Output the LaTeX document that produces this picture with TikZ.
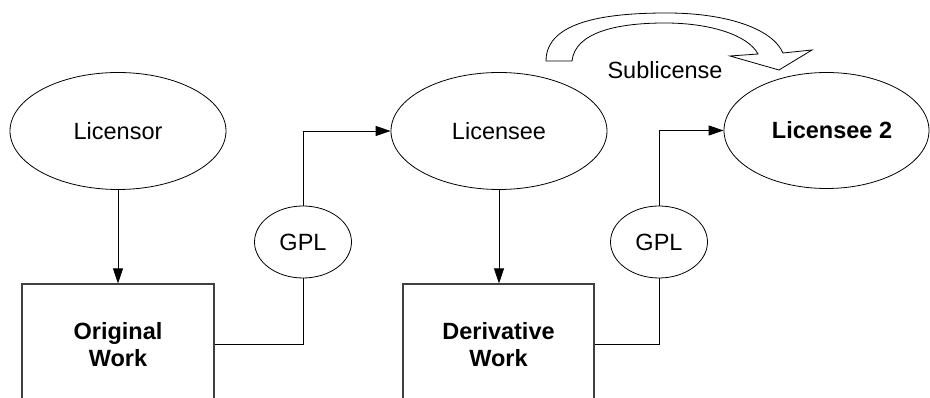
\documentclass[tikz,border=0pt]{standalone}
\usepackage{fontspec}
\setmainfont{Liberation Sans}
\usetikzlibrary{shapes.geometric,arrows.meta}
\begin{document}
\begin{tikzpicture}[x=1pt,y=1pt,
  every node/.style={font=\fontsize{23.5}{27}\selectfont},
  oval/.style={draw, ellipse, line width=0.8pt, inner sep=0pt},
  bigoval/.style={oval, minimum width=216pt, minimum height=117pt},
  gploval/.style={oval, minimum width=97pt, minimum height=72pt},
  workbox/.style={draw=black!75, line width=1.1pt, rectangle, inner sep=0pt,
    minimum height=121pt, align=center,
    font=\fontsize{23.5}{27}\selectfont\bfseries},
  conn/.style={line width=0.8pt},
  arr/.style={conn, -{Triangle[length=15pt,width=10pt]}}]
\useasboundingbox (0,0) rectangle (930,398);
\clip (0,0) rectangle (930,398);
\fill[white] (0,0) rectangle (930,398);

% ellipses
\node[bigoval] (licensor) at (118,267) {Licensor};
\node[bigoval] (licensee) at (499,267) {Licensee};
\node[oval, minimum width=205pt, minimum height=116pt, font=\fontsize{23.5}{27}\selectfont\bfseries]
  (licensee2) at (826.5,267.5) {\hspace*{11pt}Licensee 2};
\node[gploval] (gpl1) at (303,156) {GPL};
\node[gploval] (gpl2) at (659,156) {GPL};

% boxes
\node[workbox, minimum width=192pt] (orig) at (118,53.5) {Original\\Work};
\node[workbox, minimum width=191pt] (deriv) at (498.5,53.5) {Derivative\\Work};

% connectors
\draw[arr] (licensor.south) -- (orig.north);
\draw[arr] (licensee.south) -- (licensee.south |- deriv.north);
\draw[conn] (orig.east) -| (gpl1.south);
\draw[arr] (gpl1.north) |- (licensee.west);
\draw[conn] (deriv.east) -| (gpl2.south);
\draw[arr] (gpl2.north) |- (licensee2.west);

% sublicense curved block arrow
\draw[line width=0.8pt, line join=miter]
  (546,337) .. controls (546,378) and (610,385) .. (667,385)
  .. controls (725,385) and (772,370) .. (783,345)
  -- (812,348) -- (779,328) -- (730,342) -- (758,344)
  .. controls (748,363) and (710,375) .. (665,375)
  .. controls (615,375) and (575,365) .. (572,337) -- cycle;
\node (sub) at (665,328) {Sublicense};
\end{tikzpicture}
\end{document}
